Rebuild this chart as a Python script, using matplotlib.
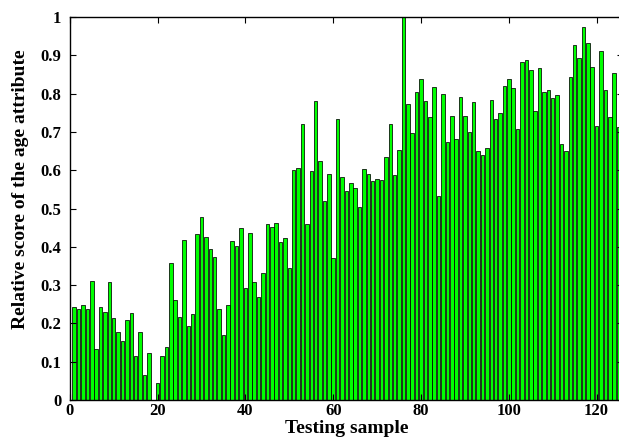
import matplotlib.pyplot as plt
import numpy as np

samples = np.arange(1, 126)
scores = [
    0.244, 0.237, 0.248, 0.237, 0.312, 0.133, 0.244, 0.231, 0.309, 0.215,
    0.178, 0.154, 0.210, 0.227, 0.116, 0.178, 0.065, 0.124, 0.000, 0.045,
    0.116, 0.139, 0.357, 0.260, 0.218, 0.418, 0.194, 0.224, 0.433, 0.477,
    0.426, 0.394, 0.374, 0.239, 0.170, 0.248, 0.416, 0.401, 0.450, 0.292,
    0.435, 0.307, 0.268, 0.333, 0.459, 0.451, 0.462, 0.412, 0.424, 0.345,
    0.600, 0.607, 0.721, 0.459, 0.597, 0.780, 0.624, 0.521, 0.589, 0.372,
    0.735, 0.583, 0.547, 0.568, 0.553, 0.503, 0.603, 0.589, 0.571, 0.576,
    0.574, 0.634, 0.721, 0.587, 0.654, 1.000, 0.774, 0.698, 0.803, 0.838,
    0.781, 0.738, 0.817, 0.533, 0.798, 0.675, 0.742, 0.681, 0.791, 0.742,
    0.701, 0.777, 0.651, 0.640, 0.657, 0.783, 0.733, 0.750, 0.821, 0.838,
    0.815, 0.709, 0.883, 0.888, 0.862, 0.755, 0.868, 0.803, 0.809, 0.789,
    0.797, 0.668, 0.651, 0.843, 0.927, 0.892, 0.973, 0.932, 0.869, 0.715,
    0.912, 0.809, 0.738, 0.853, 0.712,
]
xticks = [0, 20, 40, 60, 80, 100, 120]
yticks = [0, 0.1, 0.2, 0.3, 0.4, 0.5, 0.6, 0.7, 0.8, 0.9, 1]
ytick_labels = ["0", "0.1", "0.2", "0.3", "0.4", "0.5", "0.6", "0.7", "0.8", "0.9", "1"]

plt.rcParams["font.family"] = "Liberation Serif"
plt.rcParams["font.weight"] = "bold"

fig = plt.figure(figsize=(6.19, 4.44), dpi=100)
ax = fig.add_axes([0.1128, 0.099, 0.8936, 0.8626])

ax.bar(samples, scores, width=0.8, color="#00ff00", edgecolor="black", linewidth=0.55)

ax.set_xlim(0, 126)
ax.set_ylim(0, 1)
ax.set_xticks(xticks)
ax.set_yticks(yticks)
ax.set_yticklabels(ytick_labels)
ax.tick_params(direction="in", top=True, right=True, length=4, labelsize=12, pad=2)
ax.tick_params(axis="y", pad=6)
for s in ax.spines.values():
    s.set_linewidth(1.0)

ax.set_xlabel("Testing sample", fontsize=14, fontweight="bold", labelpad=1)
ax.set_ylabel("Relative score of the age attribute", fontsize=14, fontweight="bold")
ax.yaxis.set_label_coords(-0.073, 0.55)

fig.savefig("out.png", dpi=100)
